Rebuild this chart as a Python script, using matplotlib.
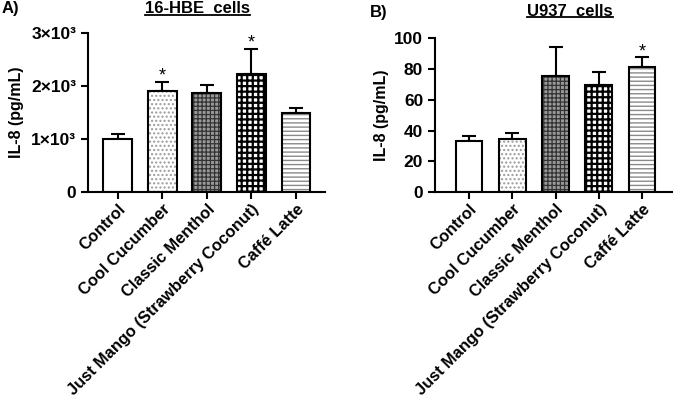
import matplotlib.pyplot as plt
from matplotlib.lines import Line2D

plt.rcParams['font.family'] = ['Liberation Sans', 'DejaVu Sans']
plt.rcParams['font.weight'] = 'bold'

# data
groups = ["Control", "Cool Cucumber", "Classic Menthol",
          "Just Mango (Strawberry Coconut)", "Caffé Latte"]
hbe_mean = [1000, 1900, 1870, 2230, 1500]
hbe_err = [95, 185, 150, 470, 80]
hbe_star = [False, True, False, True, False]
u937_mean = [33.2, 34.5, 75.5, 69.4, 81.5]
u937_err = [3.3, 4.1, 18.6, 8.9, 6.1]
u937_star = [False, False, False, False, True]
hbe_ticks = [0, 1000, 2000, 3000]
hbe_ticklabels = ["0", "1×10³", "2×10³", "3×10³"]
u937_ticks = [0, 20, 40, 60, 80, 100]

# fill style per bar: face, hatch, hatch colour, hatch width
styles = [
    ("white", "", "black", 1.0),
    ("white", "....", "#9a9a9a", 1.0),
    ("#9a9a9a", "++++", "#333333", 0.9),
    ("white", "+++", "black", 1.6),
    ("white", "----", "#8a8a8a", 1.0),
]

fig = plt.figure(figsize=(6.73, 4.07), dpi=100)
ax1 = fig.add_axes([0.1308, 0.528, 0.352, 0.391])
ax2 = fig.add_axes([0.6464, 0.528, 0.352, 0.378])


def draw_panel(ax, means, errs, stars, width, xlim, ylim, star_off):
    x = list(range(len(means)))
    for i in x:
        face, hatch, hcol, hlw = styles[i]
        b = ax.bar(i, means[i], width, color=face, edgecolor=hcol,
                   hatch=hatch, linewidth=0, zorder=2)
        for p in b:
            if hasattr(p, "set_hatch_linewidth"):
                p.set_hatch_linewidth(hlw)
        ax.bar(i, means[i], width, fill=False, edgecolor="black",
               linewidth=1.5, zorder=3)
    ax.errorbar(x, means, yerr=[[0] * len(errs), errs], fmt="none",
                ecolor="black", elinewidth=1.5, capsize=5, capthick=1.5,
                zorder=1)
    for i in x:
        if stars[i]:
            ax.annotate("*", (i, means[i] + errs[i]), xytext=(0, star_off),
                        textcoords="offset points", ha="center",
                        va="bottom", fontsize=13, fontweight="normal")
    ax.set_xlim(*xlim)
    ax.set_ylim(*ylim)
    ax.spines["top"].set_visible(False)
    ax.spines["right"].set_visible(False)
    ax.spines["left"].set_linewidth(1.5)
    ax.spines["bottom"].set_linewidth(1.5)
    ax.tick_params(width=1.5, length=5, labelsize=12.5)
    ax.tick_params(axis="x", pad=2)
    ax.set_xticks(x)
    ax.set_xticklabels(groups, rotation=45, ha="right",
                       rotation_mode="anchor", fontsize=11.8,
                       fontweight="bold")
    ax.set_ylabel("IL-8 (pg/mL)", fontsize=11.5, fontweight="bold")


draw_panel(ax1, hbe_mean, hbe_err, hbe_star, 0.65, (-0.67, 4.65),
           (0, 3000), -2)
ax1.set_yticks(hbe_ticks)
ax1.set_yticklabels(hbe_ticklabels, fontweight="bold")
ax1.yaxis.labelpad = 5

draw_panel(ax2, u937_mean, u937_err, u937_star, 0.62, (-0.785, 4.69),
           (0, 100), -2)
ax2.set_yticks(u937_ticks)
ax2.set_yticklabels([str(t) for t in u937_ticks], fontweight="bold")
ax2.yaxis.labelpad = 4

fig.text(0.002, 0.980, "A)", fontsize=12, fontweight="bold", va="center")
fig.text(0.550, 0.970, "B)", fontsize=12, fontweight="bold", va="center")
t1 = fig.text(0.293, 0.978, "16-HBE  cells", fontsize=12,
              fontweight="bold", ha="center", va="center")
t2 = fig.text(0.847, 0.972, "U937  cells", fontsize=12,
              fontweight="bold", ha="center", va="center")

# underline the titles
fig.canvas.draw()
r = fig.canvas.get_renderer()
for t in (t1, t2):
    bb = t.get_window_extent(r).transformed(fig.transFigure.inverted())
    y = bb.y0 + 0.004
    fig.add_artist(Line2D([bb.x0, bb.x1], [y, y], color="black",
                          linewidth=1.3, transform=fig.transFigure))

fig.savefig("out.png", dpi=100)
